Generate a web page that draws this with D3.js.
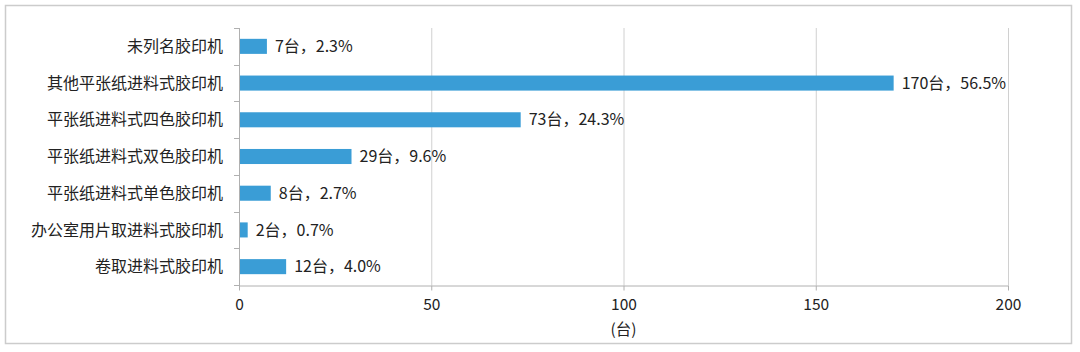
<!DOCTYPE html>
<html>
<head>
<meta charset="utf-8">
<script src="https://cdn.jsdelivr.net/npm/d3@7"></script>
<style>
  body { margin: 0; background: #fff; }
  svg text { font-family: "Noto Sans CJK SC", "Noto Sans", sans-serif; fill: #222; }
</style>
</head>
<body>
<div id="chart"></div>
<script>
// Data
const categories = ["未列名胶印机", "其他平张纸进料式胶印机", "平张纸进料式四色胶印机",
    "平张纸进料式双色胶印机", "平张纸进料式单色胶印机", "办公室用片取进料式胶印机", "卷取进料式胶印机"];
const units = [7, 170, 73, 29, 8, 2, 12];
const shares = ["2.3%", "56.5%", "24.3%", "9.6%", "2.7%", "0.7%", "4.0%"];
const xTicks = [0, 50, 100, 150, 200];

const width = 1080, height = 352;
const margin = { top: 28, right: 72, bottom: 67, left: 239 };

const svg = d3.select("#chart").append("svg")
    .attr("width", width)
    .attr("height", height);

// outer frame
svg.append("rect")
    .attr("x", 5.5).attr("y", 5.5)
    .attr("width", 1066).attr("height", 338)
    .attr("fill", "none")
    .attr("stroke", "#cccccc")
    .attr("stroke-width", 1.5);

let x = d3.scaleLinear()
    .domain([0, 200])
    .range([margin.left, width - margin.right]);

let y = d3.scaleBand()
    .domain(categories)
    .range([margin.top, height - margin.bottom])
    .paddingInner(0.59)
    .paddingOuter(0.295);

const plotBottom = height - margin.bottom;

// vertical gridlines
svg.append("g")
    .selectAll("line")
    .data(xTicks.filter((d) => d > 0))
    .join("line")
    .attr("x1", (d) => x(d) + 0.5)
    .attr("x2", (d) => x(d) + 0.5)
    .attr("y1", margin.top)
    .attr("y2", plotBottom)
    .attr("stroke", "#d0d0d0");

// x axis
const xAxis = svg.append("g")
    .attr("transform", `translate(0,${plotBottom + 0.5})`)
    .call(d3.axisBottom(x).tickValues(xTicks).tickSize(5).tickPadding(8).tickSizeOuter(0));
xAxis.select(".domain").attr("stroke", "#b0b0b0");
xAxis.selectAll(".tick line").attr("stroke", "#b0b0b0");
xAxis.selectAll(".tick text")
    .style("font-size", "15.5px")
    .attr("fill", "#222");

// y axis: line with ticks between categories
svg.append("line")
    .attr("x1", margin.left + 0.5).attr("x2", margin.left + 0.5)
    .attr("y1", margin.top).attr("y2", plotBottom + 5)
    .attr("stroke", "#b0b0b0");

const step = y.step();
svg.append("g")
    .selectAll("line")
    .data(d3.range(categories.length + 1))
    .join("line")
    .attr("x1", margin.left - 5)
    .attr("x2", margin.left)
    .attr("y1", (i) => Math.round(margin.top + i * step) + 0.5)
    .attr("y2", (i) => Math.round(margin.top + i * step) + 0.5)
    .attr("stroke", "#b0b0b0");

// category labels
svg.append("g")
    .selectAll("text")
    .data(categories)
    .join("text")
    .attr("x", margin.left - 16)
    .attr("y", (d) => y(d) + y.bandwidth() / 2)
    .attr("dy", "0.35em")
    .attr("text-anchor", "end")
    .style("font-size", "16px")
    .text((d) => d);

// bars
svg.append("g")
    .selectAll("rect")
    .data(units)
    .join("rect")
    .attr("x", x(0) + 1)
    .attr("y", (d, i) => y(categories[i]))
    .attr("width", (d) => x(d) - x(0))
    .attr("height", y.bandwidth())
    .attr("fill", "#3a9dd6");

// value labels
svg.append("g")
    .selectAll("text")
    .data(units)
    .join("text")
    .attr("x", (d) => x(d) + 9)
    .attr("y", (d, i) => y(categories[i]) + y.bandwidth() / 2)
    .attr("dy", "0.35em")
    .style("font-size", "16px")
    .text((d, i) => `${d}台，${shares[i]}`);

// unit label
svg.append("text")
    .attr("x", x(100))
    .attr("y", 330)
    .attr("dy", "0.35em")
    .attr("text-anchor", "middle")
    .style("font-size", "15.5px")
    .text("(台)");
</script>
</body>
</html>
